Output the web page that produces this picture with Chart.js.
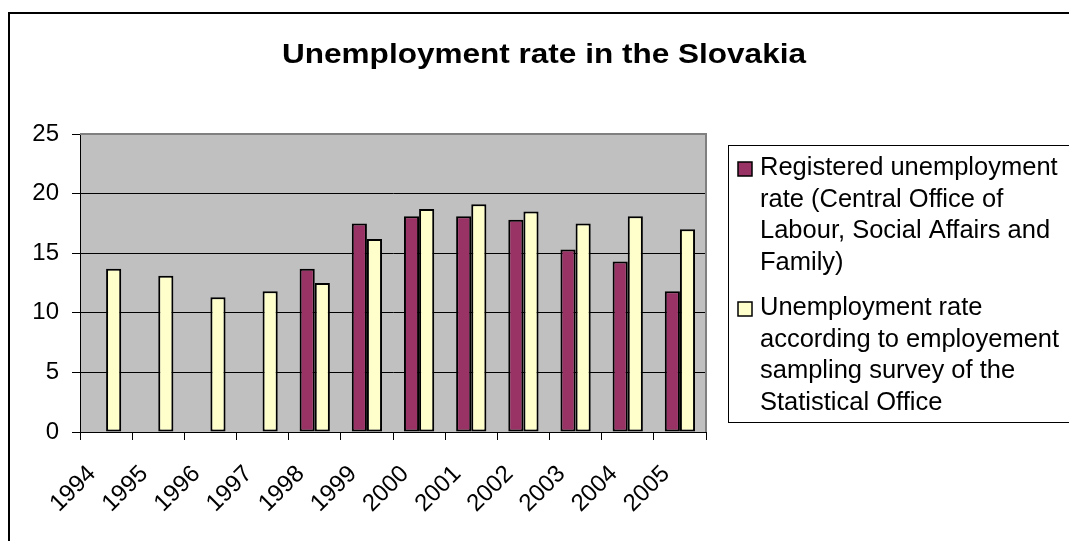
<!DOCTYPE html>
<html>
<head>
<meta charset="utf-8">
<title>Unemployment rate in the Slovakia</title>
<script src="https://cdn.jsdelivr.net/npm/chart.js@4/dist/chart.umd.min.js"></script>
<style>
  html, body { margin: 0; padding: 0; background: #fff; }
  #wrap { width: 1069px; height: 541px; position: relative; }
</style>
</head>
<body>
<div id="wrap"><canvas id="c" width="1069" height="541"></canvas></div>
<script>
// Years on the category axis
const years = ['1994', '1995', '1996', '1997', '1998', '1999', '2000', '2001', '2002', '2003', '2004', '2005'];

// Registered unemployment rate (%), no figures before 1998
const registeredRate = [null, null, null, null, 13.7, 17.5, 18.1, 18.1, 17.8, 15.3, 14.3, 11.8];

// Labour force sampling survey unemployment rate (%)
const surveyRate = [13.7, 13.1, 11.3, 11.8, 12.5, 16.2, 18.7, 19.1, 18.5, 17.5, 18.1, 17.0];

// Value axis ticks
const yTicks = [0, 5, 10, 15, 20, 25];

// Series names, broken into the lines shown in the legend box
const registeredName = ['Registered unemployment', 'rate (Central Office of', 'Labour, Social Affairs and', 'Family)'];
const surveyName = ['Unemployment rate', 'according to employement', 'sampling survey of the', 'Statistical Office'];

const chartTitle = 'Unemployment rate in the Slovakia';

const FONT = '"Liberation Sans", Arial, Helvetica, sans-serif';
const MAROON = '#993366';
const CREAM = '#FFFFCC';

// Page frame, grey plot area, title and the boxed legend
const decorations = {
  id: 'decorations',
  beforeDraw(chart) {
    const { ctx, chartArea: a } = chart;
    ctx.save();
    ctx.fillStyle = '#ffffff';
    ctx.fillRect(0, 0, chart.width, chart.height);
    ctx.fillStyle = '#C0C0C0';
    ctx.fillRect(a.left, a.top, a.right - a.left, a.bottom - a.top);
    ctx.restore();
  },
  afterDraw(chart) {
    const { ctx, chartArea: a } = chart;
    ctx.save();
    // outer frame
    ctx.strokeStyle = '#000';
    ctx.lineWidth = 2;
    ctx.strokeRect(9, 13, 2000, 2000);
    // grey frame on the top and right of the plot area
    ctx.strokeStyle = '#808080';
    ctx.lineWidth = 2;
    ctx.beginPath();
    ctx.moveTo(a.left, a.top);
    ctx.lineTo(a.right, a.top);
    ctx.lineTo(a.right, a.bottom);
    ctx.stroke();
    // title, set a little wide so it spans 282..806
    ctx.fillStyle = '#000';
    ctx.font = 'bold 27px ' + FONT;
    ctx.textAlign = 'center';
    ctx.textBaseline = 'alphabetic';
    const tw = ctx.measureText(chartTitle).width;
    ctx.save();
    ctx.translate(544, 63);
    ctx.scale(524 / tw, 1);
    ctx.fillText(chartTitle, 0, 0);
    ctx.restore();
    // legend box
    ctx.strokeStyle = '#000';
    ctx.lineWidth = 1;
    ctx.strokeRect(728.5, 145.5, 400, 277);
    const items = [
      { lines: registeredName, color: MAROON, top: 175 },
      { lines: surveyName, color: CREAM, top: 315 }
    ];
    ctx.font = '25.5px ' + FONT;
    ctx.textAlign = 'left';
    items.forEach(it => {
      ctx.fillStyle = it.color;
      ctx.fillRect(738, it.top - 13, 14, 14);
      ctx.strokeStyle = '#000';
      ctx.lineWidth = 1.5;
      ctx.strokeRect(738, it.top - 13, 14, 14);
      ctx.fillStyle = '#000';
      it.lines.forEach((ln, i) => ctx.fillText(ln, 760, it.top + i * 31.5));
    });
    ctx.restore();
  }
};

new Chart(document.getElementById('c'), {
  type: 'bar',
  data: {
    labels: years,
    datasets: [
      {
        label: registeredName.join(' '),
        data: registeredRate,
        backgroundColor: MAROON,
        borderColor: '#000',
        borderWidth: 2,
        borderSkipped: false
      },
      {
        label: surveyName.join(' '),
        data: surveyRate,
        backgroundColor: CREAM,
        borderColor: '#000',
        borderWidth: 2,
        borderSkipped: false
      }
    ]
  },
  options: {
    responsive: false,
    animation: false,
    devicePixelRatio: 1,
    layout: { padding: { left: 0, right: 363, top: 134, bottom: 0 } },
    datasets: { bar: { categoryPercentage: 0.58, barPercentage: 1.0 } },
    plugins: {
      legend: { display: false },
      title: { display: false },
      tooltip: { enabled: false }
    },
    scales: {
      x: {
        grid: { offset: true, drawOnChartArea: false, color: '#000', tickLength: 8, lineWidth: 1 },
        border: { color: '#000', width: 1 },
        ticks: {
          color: '#000',
          font: { family: FONT, size: 24 },
          minRotation: 45,
          maxRotation: 45,
          padding: 20,
          labelOffset: -14,
          autoSkip: false
        },
        afterFit(scale) { scale.height = 109; }
      },
      y: {
        min: 0,
        max: 25,
        afterBuildTicks(scale) { scale.ticks = yTicks.map(v => ({ value: v })); },
        grid: {
          color: ctx => (ctx.tick && ctx.tick.value === 25 ? '#808080' : '#000'),
          tickColor: '#000',
          tickLength: 8,
          lineWidth: 1
        },
        border: { color: '#000', width: 1 },
        ticks: {
          color: '#000',
          font: { family: FONT, size: 24 },
          padding: 13
        },
        afterFit(scale) { scale.width = 80; }
      }
    }
  },
  plugins: [decorations]
});
</script>
</body>
</html>
